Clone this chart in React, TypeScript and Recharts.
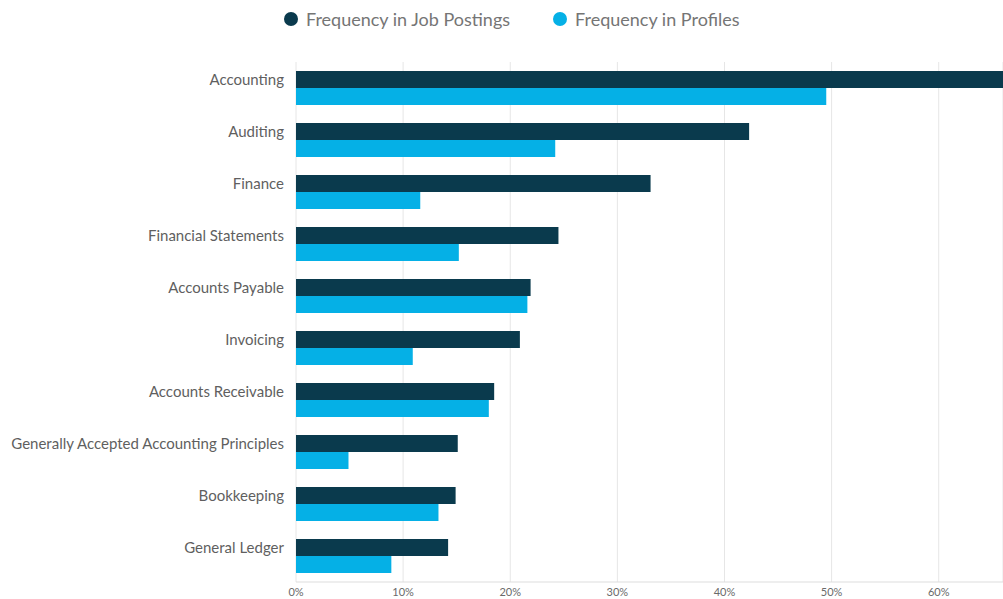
import { BarChart, Bar, XAxis, YAxis, CartesianGrid } from "recharts";

const skills = [
  "Accounting",
  "Auditing",
  "Finance",
  "Financial Statements",
  "Accounts Payable",
  "Invoicing",
  "Accounts Receivable",
  "Generally Accepted Accounting Principles",
  "Bookkeeping",
  "General Ledger",
];
// percent values
const jobPostings = [68, 42.3, 33.1, 24.5, 21.9, 20.9, 18.5, 15.1, 14.9, 14.2];
const profiles = [49.5, 24.2, 11.6, 15.2, 21.6, 10.9, 18.0, 4.9, 13.3, 8.9];
const xTicks = [0, 10, 20, 30, 40, 50, 60];
const seriesNames = ["Frequency in Job Postings", "Frequency in Profiles"];

const DARK = "#0a3a4d";
const LIGHT = "#05b0e6";

const data = skills.map((s, i) => ({
  skill: s,
  jobs: jobPostings[i],
  profiles: profiles[i],
}));

const YTick = (props: any) => {
  const { x, y, payload } = props;
  return (
    <text x={x} y={y - 8} dy="0.35em" textAnchor="end" fill="#5f5f5f" fontSize={15}>
      {payload.value}
    </text>
  );
};

function TopLegend() {
  return (
    <div
      style={{
        position: "absolute",
        top: 8,
        left: 284,
        display: "flex",
        gap: 43,
        fontSize: 18,
        color: "#757575",
        whiteSpace: "nowrap",
      }}
    >
      {seriesNames.map((label, i) => (
        <div key={label} style={{ display: "flex", alignItems: "center" }}>
          <span
            style={{
              width: 14,
              height: 14,
              borderRadius: "50%",
              background: i === 0 ? DARK : LIGHT,
              display: "inline-block",
              marginRight: 8,
            }}
          />
          {label}
        </div>
      ))}
    </div>
  );
}

export default function App() {
  return (
    <div style={{ position: "absolute", left: 0, top: 0, width: 1003, height: 599, fontFamily: "Lato, sans-serif" }}>
      <BarChart
        width={1003}
        height={599}
        data={data}
        layout="vertical"
        barSize={17}
        barGap={0}
        margin={{ top: 62, right: 0, bottom: 0, left: 0 }}
      >
        <CartesianGrid horizontal={false} stroke="#e6e6e6" />
        <XAxis
          type="number"
          domain={[0, 66]}
          allowDataOverflow
          ticks={xTicks}
          tickFormatter={(v) => `${v}%`}
          tick={{ fill: "#6a6a6a", fontSize: 11 }}
          axisLine={{ stroke: "#dddddd" }}
          tickLine={false}
          tickSize={4}
          height={17}
        />
        <YAxis
          type="category"
          dataKey="skill"
          width={296}
          tick={<YTick />}
          axisLine={false}
          tickLine={false}
          tickSize={0}
          tickMargin={12}
          interval={0}
        />
        <Bar dataKey="jobs" fill={DARK} isAnimationActive={false} />
        <Bar dataKey="profiles" fill={LIGHT} isAnimationActive={false} />
      </BarChart>
      <TopLegend />
    </div>
  );
}
